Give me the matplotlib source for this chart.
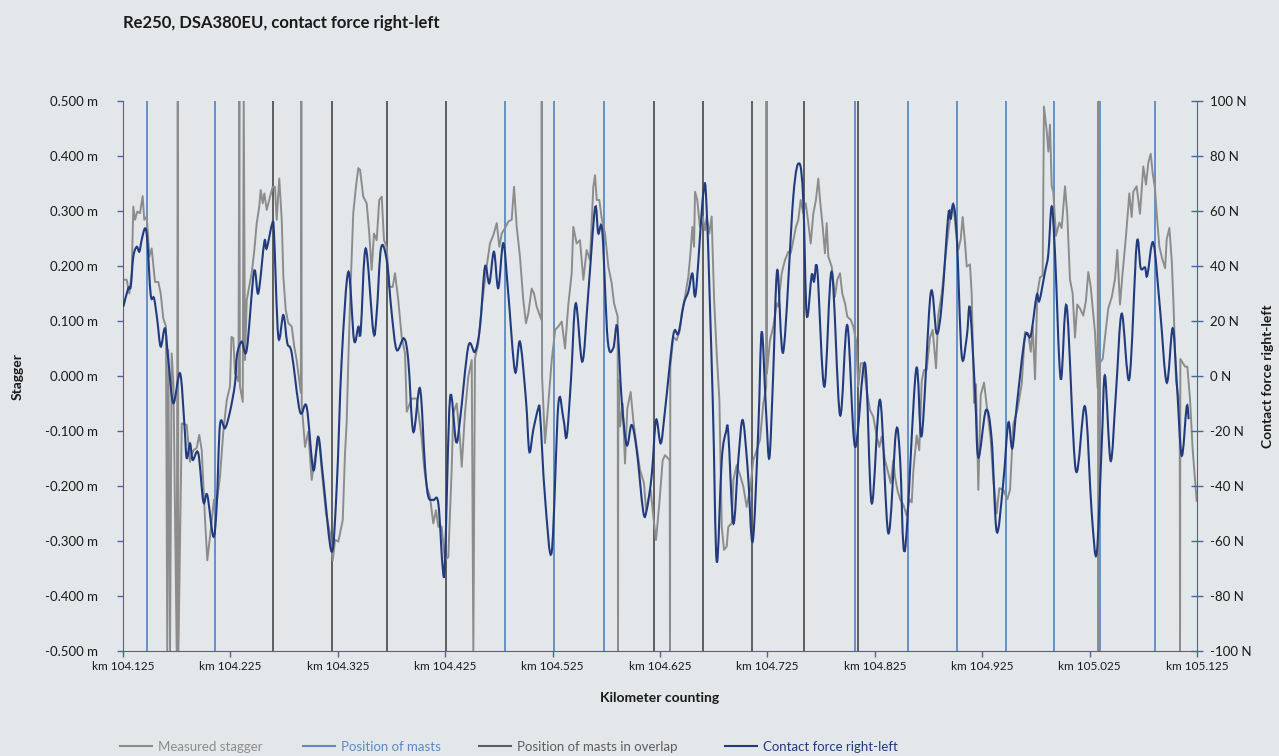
import matplotlib.pyplot as plt
from matplotlib.lines import Line2D
from matplotlib.patches import PathPatch
from matplotlib.path import Path
import numpy as np

plt.rcParams['font.family'] = ['Lato', 'DejaVu Sans']
plt.rcParams['axes.unicode_minus'] = False

title = 'Re250, DSA380EU, contact force right-left'
km_start = 104.125

# measured stagger (m) over distance from km 104.125 (m); -0.5 / 0.5 are signal dropouts
stagger_dist_m = [
    0.3, 3.4, 5.9, 8.1, 9.6, 11.2, 13.3, 15.8, 18.3, 19.8, 22.1, 24.5, 26.7, 29.8, 32.9, 35.1,
    37.5, 40.0, 41.2, 42.2, 43.8, 45.3, 47.0, 50.0, 51.0, 51.6, 54.7, 59.3, 62.4, 65.5, 68.6,
    71.0, 73.3, 76.4, 78.5, 81.0, 84.7, 87.2, 90.3, 93.4, 96.6, 99.6, 101.0, 102.7, 104.3,
    107.5, 108.3, 108.9, 111.5, 112.4, 113.6, 115.2, 119.8, 122.0, 124.5, 126.9, 128.2, 130.1,
    131.6, 133.8, 136.9, 139.4, 141.5, 143.1, 145.5, 147.8, 149.3, 151.5, 153.9, 157.1, 159.5,
    161.7, 165.6, 166.0, 166.4, 169.5, 172.5, 175.7, 178.8, 182.5, 185.0, 189.0, 192.7, 195.3,
    197.4, 200.5, 204.6, 206.7, 208.3, 209.8, 211.8, 214.4, 216.9, 219.1, 220.7, 223.7, 226.9,
    229.3, 231.5, 233.7, 236.2, 238.6, 240.9, 243.0, 245.5, 247.9, 251.1, 253.3, 256.3, 259.5,
    262.6, 264.2, 268.8, 273.5, 278.1, 280.3, 282.8, 285.8, 288.9, 291.4, 293.6, 296.7, 299.8,
    302.9, 306.0, 307.5, 310.7, 313.8, 315.4, 318.4, 321.5, 324.7, 326.2, 327.7, 330.8, 334.0,
    338.6, 341.7, 344.8, 348.0, 350.4, 352.6, 355.7, 358.8, 361.9, 364.1, 366.6, 369.6, 372.7,
    375.2, 377.4, 380.5, 382.7, 385.2, 389.6, 389.9, 390.2, 392.9, 396.0, 399.2, 402.4, 405.3,
    408.5, 411.6, 414.6, 417.8, 419.3, 422.4, 425.5, 428.6, 431.7, 434.8, 437.9, 439.5, 441.1,
    443.5, 445.7, 448.8, 451.9, 455.0, 457.2, 460.6, 460.9, 461.2, 462.8, 465.3, 467.4, 469.6,
    472.7, 475.1, 478.3, 481.4, 485.1, 487.0, 489.1, 491.3, 493.8, 496.3, 499.4, 502.5, 504.7,
    509.0, 509.3, 509.6, 512.4, 515.5, 518.6, 520.2, 523.3, 526.4, 528.6, 530.1, 531.7, 532.6,
    534.7, 537.2, 539.8, 541.9, 543.5, 545.9, 548.1, 550.4, 552.8, 555.3, 557.5, 559.6, 562.1,
    563.6, 566.8, 568.3, 571.4, 574.5, 577.6, 580.7, 583.8, 586.9, 590.0, 593.1, 596.2, 598.9,
    599.2, 599.5, 602.4, 605.5, 608.7, 610.1, 613.3, 616.4, 619.5, 621.7, 624.1, 626.6, 628.8,
    631.0, 633.4, 635.7, 638.1, 640.3, 642.8, 645.2, 647.4, 649.0, 651.5, 653.6, 655.2, 656.7,
    659.9, 662.9, 665.1, 667.6, 669.7, 672.3, 674.4, 677.6, 680.0, 682.5, 684.6, 686.9, 689.3,
    692.4, 695.5, 698.6, 701.8, 704.2, 706.4, 709.5, 712.6, 714.8, 717.3, 718.8, 721.0, 723.5,
    726.6, 729.7, 732.2, 734.4, 735.8, 739.0, 741.4, 743.7, 745.8, 748.3, 751.4, 753.9, 757.0,
    759.1, 762.3, 764.4, 766.9, 769.3, 771.6, 773.1, 775.6, 777.7, 780.0, 781.8, 784.0, 785.6,
    788.6, 790.2, 792.4, 794.2, 796.4, 798.6, 801.7, 804.7, 807.9, 810.3, 813.5, 815.9, 819.6,
    823.4, 825.9, 829.0, 832.7, 836.8, 839.8, 842.9, 845.2, 847.0, 849.2, 851.3, 853.8, 856.3,
    857.5, 860.0, 861.6, 863.1, 864.7, 866.2, 868.7, 871.8, 874.0, 877.1, 879.2, 881.7, 884.2,
    886.4, 888.5, 891.0, 894.1, 896.6, 898.8, 901.0, 902.9, 905.0, 907.5, 907.8, 908.0, 909.7,
    912.2, 914.3, 917.4, 920.6, 923.6, 925.8, 928.3, 930.8, 933.9, 937.0, 939.2, 940.7, 943.8,
    946.9, 950.0, 952.5, 954.7, 956.9, 958.8, 960.9, 962.5, 964.9, 967.2, 970.3, 971.8, 974.3,
    976.5, 978.0, 980.5, 983.9, 984.2, 984.5, 988.9, 991.0, 993.5, 996.0, 998.1, 999.7,
]
stagger_m = [
    0.175, 0.175, 0.150, 0.187, 0.308, 0.284, 0.299, 0.296, 0.327, 0.284, 0.290, 0.217, 0.232,
    0.171, 0.171, 0.150, 0.105, 0.090, -0.500, 0.047, -0.500, 0.041, -0.016, -0.500, 0.500,
    -0.500, -0.086, -0.089, -0.156, -0.135, -0.131, -0.107, -0.135, -0.262, -0.335, -0.292,
    -0.225, -0.231, -0.183, -0.101, -0.044, -0.019, 0.071, 0.069, 0.005, -0.010, 0.500, -0.019,
    -0.047, 0.500, 0.029, 0.138, 0.187, 0.223, 0.278, 0.308, 0.338, 0.314, 0.332, 0.302, 0.326,
    0.344, 0.344, 0.284, 0.359, 0.284, 0.181, 0.120, 0.096, 0.090, 0.053, 0.029, -0.031, 0.500,
    -0.053, -0.129, -0.101, -0.189, -0.147, -0.113, -0.171, -0.250, -0.286, -0.335, -0.298,
    -0.301, -0.262, -0.141, -0.083, 0.029, 0.156, 0.296, 0.344, 0.378, 0.375, 0.326, 0.314,
    0.259, 0.193, 0.259, 0.247, 0.320, 0.326, 0.247, 0.235, 0.162, 0.162, 0.187, 0.138, 0.071,
    0.041, -0.065, -0.041, -0.041, -0.113, -0.165, -0.201, -0.219, -0.268, -0.244, -0.274,
    -0.274, -0.335, -0.329, -0.171, -0.068, -0.050, -0.116, -0.165, -0.068, -0.001, 0.029,
    -0.500, 0.032, 0.059, 0.126, 0.199, 0.241, 0.256, 0.278, 0.235, 0.259, 0.269, 0.281, 0.284,
    0.344, 0.271, 0.217, 0.138, 0.096, 0.114, 0.159, 0.150, 0.126, 0.102, 0.500, -0.001,
    -0.122, -0.050, 0.029, 0.084, 0.090, 0.099, 0.050, 0.129, 0.187, 0.271, 0.241, 0.247,
    0.175, 0.229, 0.211, 0.344, 0.365, 0.320, 0.320, 0.287, 0.259, 0.199, 0.169, 0.132, 0.108,
    -0.500, -0.007, -0.092, -0.050, -0.159, -0.059, -0.029, -0.080, -0.129, -0.171, -0.195,
    -0.244, -0.225, -0.207, -0.256, -0.298, -0.231, -0.153, -0.144, -0.153, -0.500, 0.017,
    0.071, 0.065, 0.084, 0.114, 0.144, 0.181, 0.229, 0.271, 0.235, 0.335, 0.320, 0.271, 0.290,
    0.265, 0.290, 0.259, 0.290, 0.138, 0.041, -0.044, -0.274, -0.316, -0.310, -0.274, -0.268,
    -0.189, -0.162, -0.180, -0.201, -0.238, -0.207, -0.153, -0.135, -0.116, -0.050, -0.020,
    0.500, 0.005, 0.065, 0.090, 0.132, 0.126, 0.187, 0.211, 0.226, 0.223, 0.247, 0.271, 0.284,
    0.320, 0.296, 0.314, 0.278, 0.241, 0.296, 0.320, 0.359, 0.320, 0.271, 0.223, 0.278, 0.217,
    0.199, 0.144, 0.175, 0.187, 0.150, 0.132, 0.108, 0.102, 0.090, 0.065, -0.019, 0.023, 0.023,
    -0.025, -0.062, -0.074, -0.110, -0.129, -0.110, -0.153, -0.177, -0.195, -0.153, -0.183,
    -0.207, -0.224, -0.234, -0.254, -0.224, -0.230, -0.174, -0.108, -0.135, -0.009, 0.011,
    0.011, 0.070, 0.084, 0.014, 0.110, 0.150, 0.189, 0.236, 0.275, 0.302, 0.312, 0.262, 0.229,
    0.249, 0.289, 0.242, 0.199, 0.203, 0.150, -0.049, -0.015, -0.207, -0.035, -0.012, -0.062,
    -0.115, -0.187, -0.250, -0.204, -0.207, -0.224, -0.207, -0.088, -0.062, -0.015, 0.080,
    0.077, 0.044, 0.090, -0.006, 0.150, 0.179, 0.183, 0.490, 0.447, 0.408, 0.457, 0.345, 0.335,
    0.255, 0.279, 0.269, 0.345, 0.295, 0.176, 0.150, 0.070, 0.130, 0.123, 0.110, 0.137, 0.189,
    0.163, 0.123, 0.080, -0.022, 0.500, -0.500, 0.024, 0.031, 0.070, 0.123, 0.143, 0.176,
    0.229, 0.130, 0.189, 0.255, 0.332, 0.289, 0.335, 0.345, 0.295, 0.381, 0.348, 0.388, 0.404,
    0.368, 0.341, 0.295, 0.236, 0.216, 0.196, 0.249, 0.269, 0.209, 0.137, -0.009, -0.055,
    -0.500, 0.031, 0.017, 0.017, -0.042, -0.135, -0.187, -0.227,
]

# contact force right-left (N)
force_dist_m = [
    0.3, 4.9, 7.2, 9.6, 12.8, 15.2, 17.4, 20.5, 22.6, 25.8, 28.9, 31.9, 35.1, 39.1, 42.2, 46.8,
    53.1, 57.1, 59.3, 62.4, 64.9, 70.1, 74.8, 78.5, 84.1, 87.2, 90.3, 95.0, 99.6, 104.3, 106.1,
    110.5, 115.2, 122.0, 126.0, 131.6, 133.8, 139.0, 140.6, 144.6, 149.3, 153.0, 157.1, 164.8,
    171.0, 177.2, 181.8, 186.5, 194.3, 199.0, 203.6, 209.8, 215.1, 219.1, 221.3, 226.0, 233.1,
    236.2, 240.2, 245.5, 250.2, 254.8, 261.6, 265.6, 270.3, 276.5, 281.2, 284.3, 288.9, 293.6,
    297.7, 299.8, 304.5, 310.1, 313.8, 321.5, 327.7, 332.4, 337.0, 341.1, 345.4, 349.4, 354.1,
    358.7, 365.0, 369.6, 375.2, 378.3, 382.0, 386.7, 388.3, 392.9, 399.2, 405.3, 410.0, 413.1,
    417.1, 421.5, 427.7, 433.2, 439.5, 442.5, 446.3, 451.3, 456.5, 460.2, 464.3, 469.0, 473.6,
    478.3, 484.4, 487.6, 492.3, 496.3, 500.7, 504.7, 512.4, 517.1, 522.3, 526.4, 530.1, 533.3,
    540.3, 543.5, 549.1, 552.8, 557.5, 561.5, 563.6, 568.3, 572.9, 577.0, 581.7, 586.3, 591.5,
    594.7, 598.7, 601.8, 605.2, 609.2, 614.8, 624.1, 629.7, 633.4, 636.6, 641.2, 643.4, 646.5,
    653.0, 659.9, 667.6, 674.4, 681.6, 690.9, 697.1, 704.9, 712.6, 719.7, 723.5, 728.1, 738.4,
    743.7, 752.0, 757.6, 762.3, 768.4, 770.7, 773.1, 776.3, 780.9, 785.6, 788.6, 793.3, 796.4,
    803.5, 808.8, 813.5, 819.6, 824.3, 828.0, 832.1, 839.8, 845.2, 850.7, 853.2, 858.5, 861.6,
    864.7, 867.8, 873.1, 878.7, 887.1, 895.7, 901.9, 906.6, 911.3, 914.3, 919.6, 924.6, 929.9,
    937.0, 943.8, 947.6, 951.6, 953.7, 959.3, 965.5, 971.8, 977.3, 981.1, 985.7, 990.4, 992.2,
]
force_n = [
    25.2, 31.9, 32.5, 43.4, 47.0, 45.2, 49.5, 53.7, 49.5, 29.5, 28.3, 20.4, 10.7, 17.3, 5.8,
    -9.9, 1.0, -17.2, -29.9, -24.5, -30.5, -28.1, -45.7, -43.3, -58.4, -47.5, -17.8, -19.0,
    -13.0, -2.7, 7.6, 12.5, 9.5, 37.9, 30.1, 48.8, 46.4, 55.5, 51.9, 14.3, 22.2, 11.9, 8.3,
    -13.0, -11.2, -34.2, -22.1, -37.8, -63.9, -40.3, 5.8, 37.9, 13.1, 17.9, 16.1, 46.4, 16.1,
    22.8, 46.4, 42.2, 22.8, 9.5, 13.7, 5.8, -20.3, -4.5, -33.0, -43.9, -45.1, -46.3, -69.9,
    -66.9, -8.1, -23.9, -16.0, 10.7, 8.8, 17.9, 39.7, 33.7, 45.2, 31.9, 48.3, 30.1, 1.6, 12.5,
    -8.7, -27.5, -19.6, -11.7, -13.6, -43.9, -63.9, -10.5, -15.4, -22.1, -1.5, 26.4, 5.2, 30.1,
    61.0, 51.9, 52.5, 13.1, 10.1, 17.9, -8.7, -25.1, -17.8, -26.9, -49.3, -48.7, -36.0, -16.0,
    -24.5, -12.4, 14.9, 15.5, 26.4, 30.7, 37.3, 30.1, 66.4, 60.4, -8.7, -67.5, -30.5, -20.3,
    -20.8, -53.6, -30.5, -16.0, -34.2, -60.2, -19.6, 16.1, -12.4, -29.9, -1.5, 38.5, 8.8, 65.2,
    77.3, 64.0, 22.2, 36.7, 34.3, 38.5, -3.9, 37.9, -14.2, 18.5, -25.7, 4.6, -46.3, -8.7, -57.2,
    -20.3, -29.6, -63.3, 2.2, -21.6, 30.0, 15.4, 26.0, 58.4, 57.1, 62.4, 51.1, 7.5, 14.1, 24.7,
    -5.7, -29.6, -12.4, -22.9, -56.6, -38.8, -17.0, -26.3, -11.1, 14.1, 14.7, 29.3, 27.3, 37.9,
    44.5, 61.7, 44.5, -1.1, 25.3, -34.2, -11.1, -49.4, -64.6, -24.9, 0.2, -30.9, -5.7, 22.7,
    -1.1, 47.8, 39.2, 39.5, 36.5, 48.5, 24.7, -2.4, 17.4, -1.8, -28.9, -11.1, -15.7,
]

mast_dist_m = [22, 86, 356, 401, 448, 682, 731, 777, 822, 867, 910, 961]
overlap_mast_dist_m = [140, 195, 246, 301, 494, 540, 586, 634, 684]

km_ticks_m = list(range(0, 1001, 100))
stagger_ticks = [-0.5, -0.4, -0.3, -0.2, -0.1, 0.0, 0.1, 0.2, 0.3, 0.4, 0.5]
force_ticks = list(range(-100, 101, 20))

legend_labels = ['Measured stagger', 'Position of masts',
                 'Position of masts in overlap', 'Contact force right-left']

# colours
bg = '#e3e7e9'
c_stagger = '#8c8c8c'
c_mast = '#5b8bc4'
c_overlap = '#5e5e5e'
c_force = '#213b7e'
c_axis = '#4565a5'
c_text = '#1a1a1a'


def smooth_path(xs, ys):
    # smoothed line through the points (cubic Bezier, Catmull-Rom tangents)
    p = np.column_stack([xs, ys])
    verts = [p[0]]
    for i in range(len(p) - 1):
        p0 = p[max(i - 1, 0)]
        p3 = p[min(i + 2, len(p) - 1)]
        verts.append(p[i] + (p[i + 1] - p0) / 6)
        verts.append(p[i + 1] - (p3 - p[i]) / 6)
        verts.append(p[i + 1])
    codes = [Path.MOVETO] + [Path.CURVE4] * (len(verts) - 1)
    return Path(verts, codes)


W, H = 1279, 756
fig = plt.figure(figsize=(W / 100, H / 100), dpi=100, facecolor=bg)
ax = fig.add_axes([123 / W, 1 - 651 / H, (1197 - 123) / W, 550 / H])
ax.set_facecolor(bg)

for x in mast_dist_m:
    ax.axvline(x, color=c_mast, lw=1.3, zorder=1)
for x in overlap_mast_dist_m:
    ax.axvline(x, color=c_overlap, lw=1.4, zorder=1)
ax.plot(stagger_dist_m, stagger_m, color=c_stagger, lw=1.4, zorder=2)

ax.set_xlim(0, 1000)
ax.set_ylim(-0.5, 0.5)
ax.set_xticks(km_ticks_m)
ax.set_xticklabels(['km {:.3f}'.format(km_start + d / 1000) for d in km_ticks_m])
ax.set_yticks(stagger_ticks)
ax.set_yticklabels(['{:.3f} m'.format(v) for v in stagger_ticks])

ax2 = ax.twinx()
ax2.add_patch(PathPatch(smooth_path(force_dist_m, force_n), facecolor='none',
                        edgecolor=c_force, lw=1.5, zorder=3))
ax2.set_ylim(-100, 100)
ax2.set_yticks(force_ticks)
ax2.set_yticklabels(['{} N'.format(v) for v in force_ticks])

# axes styling
for s in ['top', 'right']:
    ax.spines[s].set_visible(False)
for s in ['top', 'left', 'bottom']:
    ax2.spines[s].set_visible(False)
ax.spines['left'].set_color(c_axis)
ax.spines['bottom'].set_color(c_axis)
ax2.spines['right'].set_color(c_axis)

ax.tick_params(axis='y', direction='out', length=4, width=1, color=c_axis, pad=14,
               labelsize=9.5, labelcolor=c_text)
ax.tick_params(axis='x', direction='out', length=4, width=1, color=c_axis, pad=3,
               labelsize=8.5, labelcolor=c_text)
ax2.tick_params(axis='y', direction='inout', length=9, width=1, color=c_axis, pad=5,
                labelsize=9.5, labelcolor=c_text)

ax.set_ylabel('Stagger', fontsize=10, fontweight='bold', color=c_text)
ax.yaxis.set_label_coords(-0.098, 0.5)
ax.yaxis.label.set_va('center')
ax2.set_ylabel('Contact force right-left', fontsize=10, fontweight='bold', color=c_text)
ax2.yaxis.set_label_coords(1.066, 0.5)
ax2.yaxis.label.set_va('center')
ax.set_xlabel('Kilometer counting', fontsize=10, fontweight='bold', color=c_text)
ax.xaxis.set_label_coords(0.5, -0.0855)
ax.xaxis.label.set_va('center')

fig.text(123 / W, 1 - 23 / H, title, fontsize=12, fontweight='bold', color=c_text,
         ha='left', va='center')

# legend, one entry per block along the bottom
handles = [Line2D([], [], color=c_stagger, lw=1.5),
           Line2D([], [], color=c_mast, lw=1.5),
           Line2D([], [], color=c_overlap, lw=1.5),
           Line2D([], [], color=c_force, lw=1.5)]
legend_x = [120, 303, 479, 725]
for h, lab, x in zip(handles, legend_labels, legend_x):
    fig.legend(handles=[h], labels=[lab], loc='center left',
               bbox_to_anchor=(x / W, 1 - 747 / H), frameon=False,
               handlelength=2.4, handletextpad=0.45, borderpad=0, borderaxespad=0,
               fontsize=9.5, labelcolor='linecolor')

fig.savefig('out.png', dpi=100, facecolor=bg)
